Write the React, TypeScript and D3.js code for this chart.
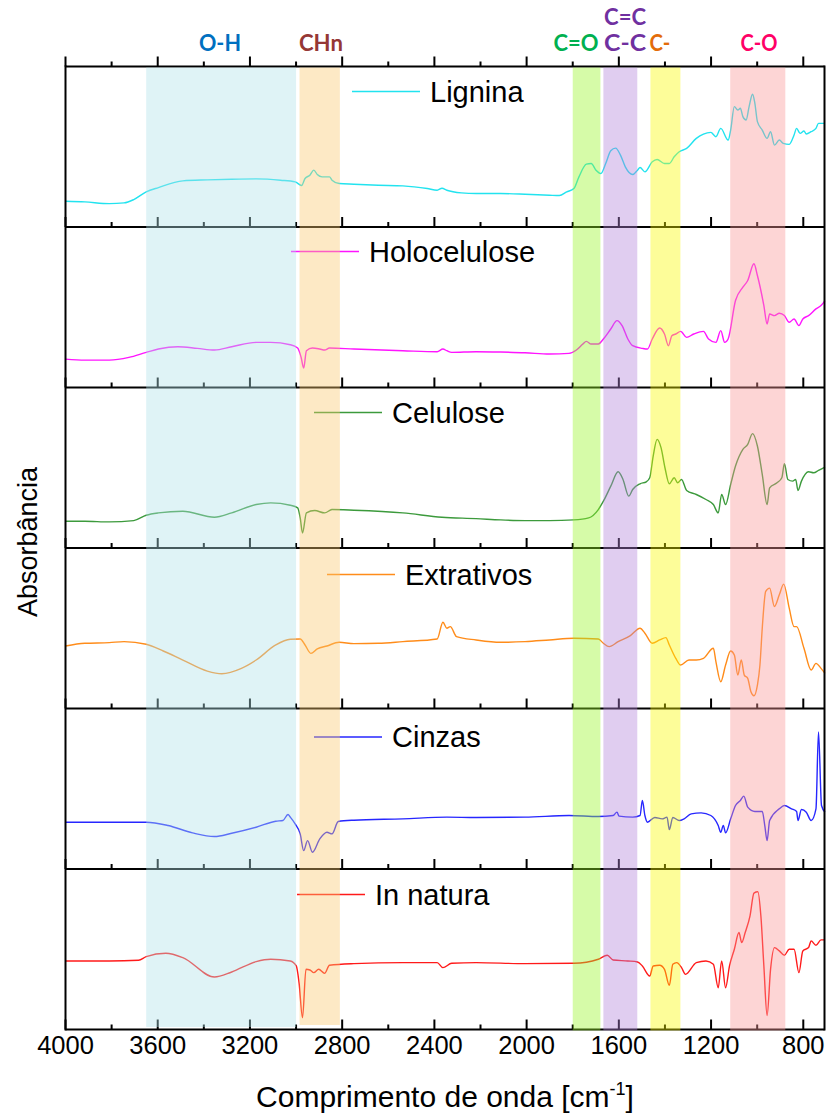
import React from "react";
import * as d3 from "d3";

type Pt = [number, number];

const seriesNames = ["Lignina", "Holocelulose", "Celulose", "Extrativos", "Cinzas", "In natura"];
const seriesColors = ["#22e3ef", "#ff14ff", "#3c9a3c", "#ff8c1a", "#2626ff", "#ff1a1a"];

const lignina: Pt[] = [
[4000,15.4],[3916,15],[3810,14],[3746,14.4],[3704,16.4],[3650,21],[3597,23.6],[3491,27.6],[3385,28.2],[3279,28.6],[3173,28.8],[3067,28],[3004,27],[2976,24.8],[2961,29],[2940,31],[2923,34],[2908,31.4],[2887,30],[2855,30],[2844,28],[2813,26],[2749,25.6],[2643,25],[2537,24.6],[2431,23],[2388,22],[2367,23.2],[2346,22],[2283,20.4],[2219,20],[2113,20],[2007,19.6],[1901,19],[1858,18.8],[1826,21],[1795,23],[1773,30],[1741,37.6],[1720,38],[1699,34],[1678,32],[1657,38],[1635,45.6],[1614,47.2],[1593,43],[1572,36],[1540,31.4],[1519,34],[1508,35.6],[1487,33],[1455,39],[1434,40.4],[1402,38],[1381,38],[1360,42],[1338,45],[1306,47],[1264,53],[1233,55.6],[1201,56.6],[1179,54],[1158,59],[1126,52],[1115,58],[1099,72],[1084,70],[1073,71],[1062,66],[1048,64],[1035,72],[1020,79.4],[1010,74],[999,63],[978,58],[957,53],[942,57],[925,49],[904,52],[887,50],[861,49.4],[840,55],[829,59],[814,56],[797,57.4],[787,55.6],[766,57],[745,59],[734,62],[706,62]
];

const holocelulose: Pt[] = [
[4000,17],[3916,16.4],[3810,16.4],[3725,18],[3650,21],[3597,23],[3513,24.4],[3428,23.4],[3354,22.4],[3279,24.4],[3173,27],[3110,27],[3025,25.6],[2993,23.6],[2978,18],[2967,11.6],[2955,22],[2929,23.6],[2897,23],[2876,22.4],[2855,23.6],[2749,23],[2537,22],[2388,21.4],[2363,23],[2346,22],[2325,21],[2219,21.4],[2113,21.2],[2007,20.8],[1901,20],[1816,20.4],[1784,22.4],[1756,26],[1741,27.6],[1720,26],[1689,26],[1667,29],[1635,35],[1608,40],[1586,37],[1561,29],[1540,25],[1498,23.4],[1476,23],[1455,29],[1423,35.6],[1402,32],[1385,25],[1370,31],[1353,32],[1332,33.6],[1306,30],[1275,32],[1233,33.6],[1211,29],[1179,27],[1158,34],[1141,27],[1126,29],[1094,52],[1062,60],[1041,64],[1014,74],[999,67],[971,49],[957,38],[946,44],[925,43],[904,44.4],[882,43],[861,39],[840,41],[819,37],[802,41],[777,43],[745,47],[723,49],[706,52]
];

const celulose: Pt[] = [
[4000,16],[3916,16],[3810,15.6],[3704,16.4],[3650,19.6],[3597,21],[3491,22],[3354,18.4],[3279,21],[3173,26],[3110,27],[3025,25.6],[2993,24],[2982,18],[2972,9],[2955,21],[2919,22.4],[2876,21],[2844,23],[2749,22.6],[2537,21],[2367,18.4],[2219,17.6],[2113,16.8],[2007,16.4],[1901,16.4],[1795,16.8],[1731,18],[1689,23],[1667,28],[1635,37],[1603,45.6],[1582,41],[1557,31],[1540,35],[1508,38.4],[1481,39.6],[1466,42],[1451,55],[1434,65],[1417,60],[1400,48],[1381,38.4],[1360,42],[1345,39],[1328,41],[1306,34.4],[1264,32],[1222,29],[1190,26],[1169,21],[1154,32],[1137,26],[1115,38],[1094,49],[1062,59],[1041,62],[1020,68.4],[999,61],[978,44],[957,26],[946,36],[914,39],[893,42],[882,50.4],[867,41],[846,40],[833,41],[823,34.4],[808,40],[777,45.6],[755,45],[734,46.4],[706,48.4]
];

const extrativos: Pt[] = [
[4000,37.4],[3916,39],[3810,39.4],[3746,40],[3650,38.4],[3576,34.4],[3491,29],[3385,22.4],[3322,20.8],[3237,24],[3173,29],[3088,38],[3025,41.4],[2982,41.6],[2961,38],[2936,33],[2908,35.6],[2866,37.4],[2813,39.6],[2749,38.8],[2643,39],[2537,40],[2388,41.6],[2363,51.6],[2346,48],[2331,49],[2304,43],[2219,41],[2113,39.6],[2007,40],[1901,41],[1795,42],[1689,41.6],[1667,39],[1642,37],[1603,40],[1550,43.6],[1508,48],[1487,45],[1455,39],[1423,41],[1396,42.4],[1381,38],[1353,30],[1332,26],[1296,29],[1264,29],[1233,30],[1190,36],[1179,28],[1158,16],[1137,26],[1115,34.4],[1099,32],[1084,20],[1069,29],[1056,20],[1041,18],[1027,10],[1014,7.6],[999,14],[988,26],[978,48],[963,70],[946,72],[925,61],[904,68],[885,74.4],[861,60],[840,49],[829,49],[797,36],[766,23],[745,27],[723,24],[706,21]
];

const cinzas: Pt[] = [
[4000,28],[3810,28],[3650,28],[3555,26],[3449,21.6],[3354,19.4],[3279,21.4],[3173,25],[3088,28.6],[3057,29],[3035,32.6],[3025,31],[3004,27],[2982,21],[2967,11],[2950,17],[2929,10],[2897,18],[2866,22],[2844,21],[2817,28.4],[2749,29.2],[2537,30],[2346,31],[2219,30.8],[2007,31],[1816,32],[1689,31.4],[1625,32],[1608,34],[1599,31.6],[1540,31],[1508,32],[1498,41],[1487,32],[1476,28],[1444,30.8],[1412,30],[1391,31],[1381,23.6],[1366,30.8],[1338,29],[1317,30],[1286,33],[1243,33.6],[1201,32],[1169,26],[1158,22],[1147,26],[1137,21.6],[1115,30],[1094,38],[1073,41],[1058,43.6],[1041,37],[1010,34.4],[978,34.4],[967,26],[957,17],[946,29],[904,36],[882,38],[851,36],[829,34.4],[823,29],[808,35.6],[787,34],[766,29],[745,36],[734,82],[721,38],[706,34]
];

const inNatura: Pt[] = [
[4000,41],[3810,41],[3683,41.4],[3650,43.6],[3565,45.6],[3491,43],[3354,31.4],[3279,34.4],[3173,40.6],[3110,42],[3025,41],[2999,38],[2987,28],[2972,7],[2957,36],[2940,35.6],[2923,34],[2902,36],[2876,33.6],[2855,38.4],[2749,39.4],[2537,40],[2388,40],[2363,37],[2325,39.6],[2219,40],[2007,39.4],[1795,39.6],[1689,42],[1650,44.4],[1625,41.6],[1561,41],[1519,40.4],[1498,38],[1466,32],[1451,38],[1423,38.4],[1402,36],[1381,26.4],[1366,39],[1349,40],[1328,37],[1311,33],[1264,40],[1222,41],[1190,39],[1169,25],[1154,41],[1137,25],[1120,38],[1099,48],[1079,58],[1067,52],[1052,58],[1031,68],[1014,81.6],[997,82.4],[984,68],[971,38],[957,8.4],[942,36],[925,49],[904,47],[882,44.4],[861,48],[840,48],[819,34],[802,47],[777,49],[766,53],[745,50.4],[723,53.6],[706,53.6]
];

const seriesData: Pt[][] = [lignina, holocelulose, celulose, extrativos, cinzas, inNatura];

const bandStart = [3650, 2985, 1800, 1667, 1463, 1117];
const bandEnd = [3000, 2810, 1680, 1520, 1333, 878];
const bandFill = ["#afe1e8", "#fac86e", "#99f526", "#b182d9", "#fafa00", "#fa9696"];

// band annotation labels: text, centre wavenumber, row, colour
const labelTexts = ["O-H", "CHn", "C=O", "C=C", "C-C", "C-", "C-O"];
const labelWn = [3330, 2892, 1786, 1573, 1573, 1422, 992];
const labelRow = [1, 1, 1, 0, 1, 1, 1];
const labelWidth = [42, 44, 45, 42, 42, 21, 37];
const labelColors = ["#0070c0", "#953735", "#00b050", "#7030a0", "#7030a0", "#e36c09", "#ff0066"];

const majorTicks = [4000, 3600, 3200, 2800, 2400, 2000, 1600, 1200, 800];
const minorTicks = [3800, 3400, 3000, 2600, 2200, 1800, 1400, 1000];

const W = 827, H = 1117;
const left = 65.5, right = 824.5, top = 66.5, panelH = 160.5;

export default function App() {
  const x = d3.scaleLinear().domain([4000, 708]).range([left, right]);
  const nP = seriesData.length;
  const bottom = top + panelH * nP;
  const legendX = [352, 291, 314, 327, 314, 297];
  const legendDy = [25, 24.5, 25, 26.5, 28.5, 25.5];

  return (
    <svg width={W} height={H} style={{ display: "block", position: "absolute", left: 0, top: 0 }}
      fontFamily="'Liberation Sans', Arial, sans-serif">
      <rect x={0} y={0} width={W} height={H} fill="#fff" />
      {seriesData.map((data, i) => {
        const y0 = top + panelH * i;
        const y = d3.scaleLinear().domain([0, 96]).range([y0 + panelH, y0]);
        const line = d3.line<Pt>().x(d => x(d[0])).y(d => y(d[1])).curve(d3.curveMonotoneX);
        const ly = y0 + legendDy[i];
        return (
          <g key={i}>
            <path d={line(data) || ""} fill="none" stroke={seriesColors[i]} strokeWidth={1.4} />
            <line x1={legendX[i]} x2={legendX[i] + 68} y1={ly} y2={ly} stroke={seriesColors[i]} strokeWidth={1.4} />
            <text x={legendX[i] + 78} y={ly + 10} fontSize={29} fill="#000">{seriesNames[i]}</text>
            <line x1={left} x2={right} y1={y0 + panelH} y2={y0 + panelH} stroke="#000" strokeWidth={2} />
            {majorTicks.map(t => (
              <line key={"M" + t} x1={x(t)} x2={x(t)} y1={y0 + panelH} y2={y0 + panelH - 10} stroke="#000" strokeWidth={2} />
            ))}
            {minorTicks.map(t => (
              <line key={"m" + t} x1={x(t)} x2={x(t)} y1={y0 + panelH} y2={y0 + panelH - 5} stroke="#000" strokeWidth={2} />
            ))}
          </g>
        );
      })}
      <line x1={left} x2={right} y1={top} y2={top} stroke="#000" strokeWidth={2} />
      {majorTicks.map(t => (
        <line key={"tM" + t} x1={x(t)} x2={x(t)} y1={top} y2={top - 10} stroke="#000" strokeWidth={2} />
      ))}
      {minorTicks.map(t => (
        <line key={"tm" + t} x1={x(t)} x2={x(t)} y1={top} y2={top - 5} stroke="#000" strokeWidth={2} />
      ))}
      <line x1={left} x2={left} y1={top - 1} y2={bottom + 1} stroke="#000" strokeWidth={2} />
      <line x1={right} x2={right} y1={top - 1} y2={bottom + 1} stroke="#000" strokeWidth={2} />
      {bandStart.map((b, i) => {
        const endY = i < 2 ? bottom - (i === 0 ? 2.5 : 4.5) : bottom + 1;
        return (
          <rect key={"b" + i} x={x(b)} width={x(bandEnd[i]) - x(b)} y={top + 1} height={endY - top - 1}
            fill={bandFill[i]} fillOpacity={0.4} />
        );
      })}
      {labelTexts.map((lab, i) => (
        <text key={"bl" + i} x={x(labelWn[i])} y={labelRow[i] === 0 ? 25 : 51}
          fontFamily="Lato, 'Open Sans', sans-serif" fontWeight="bold" fontSize={23}
          fill={labelColors[i]} textAnchor="middle"
          textLength={labelWidth[i]} lengthAdjust="spacingAndGlyphs">{lab}</text>
      ))}
      {majorTicks.map(t => (
        <text key={"tl" + t} x={x(t)} y={1054} fontSize={25.5} textAnchor="middle" fill="#000">{t}</text>
      ))}
      <text x={445} y={1107} fontSize={30} textAnchor="middle" fill="#000">
        Comprimento de onda [cm<tspan fontSize={18} dy={-12}>-1</tspan><tspan dy={12}>]</tspan>
      </text>
      <text transform="translate(37,542) rotate(-90)" fontSize={27} textAnchor="middle" fill="#000">Absorbância</text>
    </svg>
  );
}
